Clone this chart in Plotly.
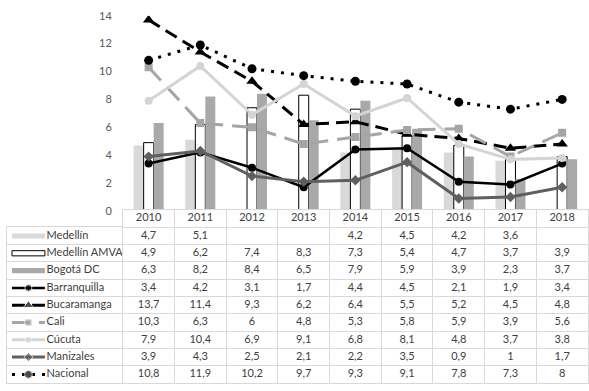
import plotly.graph_objects as go

years = [2010, 2011, 2012, 2013, 2014, 2015, 2016, 2017, 2018]
series_names = ["Medellín", "Medellín AMVA", "Bogotá DC", "Barranquilla", "Bucaramanga",
                "Cali", "Cúcuta", "Manizales", "Nacional"]
medellin = [4.7, 5.1, None, None, 4.2, 4.5, 4.2, 3.6, None]
medellin_amva = [4.9, 6.2, 7.4, 8.3, 7.3, 5.4, 4.7, 3.7, 3.9]
bogota = [6.3, 8.2, 8.4, 6.5, 7.9, 5.9, 3.9, 2.3, 3.7]
barranquilla = [3.4, 4.2, 3.1, 1.7, 4.4, 4.5, 2.1, 1.9, 3.4]
bucaramanga = [13.7, 11.4, 9.3, 6.2, 6.4, 5.5, 5.2, 4.5, 4.8]
cali = [10.3, 6.3, 6, 4.8, 5.3, 5.8, 5.9, 3.9, 5.6]
cucuta = [7.9, 10.4, 6.9, 9.1, 6.8, 8.1, 4.8, 3.7, 3.8]
manizales = [3.9, 4.3, 2.5, 2.1, 2.2, 3.5, 0.9, 1, 1.7]
nacional = [10.8, 11.9, 10.2, 9.7, 9.3, 9.1, 7.8, 7.3, 8]
y_ticks = [0, 2, 4, 6, 8, 10, 12, 14]

W, H = 589, 391
FONT = "Lato"
TXT = "#404040"
GRID = "#d9d9d9"
HDR = " "  # header row key of the data table

year_labels = [str(y) for y in years]
all_series = [medellin, medellin_amva, bogota, barranquilla, bucaramanga,
              cali, cucuta, manizales, nacional]

bar_styles = [
    dict(color="#d9d9d9", line=dict(color="#d9d9d9", width=0)),
    dict(color="#ffffff", line=dict(color="#000000", width=1)),
    dict(color="#a9a9a9", line=dict(color="#a9a9a9", width=0)),
]
line_styles = [
    dict(color="#000000", width=2.5, dash="solid", symbol="circle", size=8),
    dict(color="#000000", width=3, dash="13px,7px", symbol="triangle-up", size=10),
    dict(color="#a5a5a5", width=3, dash="18px,9px", symbol="square", size=8),
    dict(color="#d4d4d4", width=3, dash="solid", symbol="circle", size=8),
    dict(color="#5f5f5f", width=3, dash="solid", symbol="diamond", size=8),
    dict(color="#000000", width=3, dash="3px,7px", symbol="circle", size=9),
]

fig = go.Figure()

# ---- main chart: bars
for i in range(3):
    fig.add_trace(go.Bar(x=year_labels, y=all_series[i], name=series_names[i],
                         marker=bar_styles[i], showlegend=False, offsetgroup=str(i),
                         xaxis="x", yaxis="y", hoverinfo="skip"))
# ---- main chart: lines
for j, st in enumerate(line_styles):
    fig.add_trace(go.Scatter(x=year_labels, y=all_series[3 + j], name=series_names[3 + j],
                             mode="lines+markers",
                             line=dict(color=st["color"], width=st["width"], dash=st["dash"]),
                             marker=dict(color=st["color"], symbol=st["symbol"], size=st["size"]),
                             showlegend=False, xaxis="x", yaxis="y", hoverinfo="skip"))

# ---- data table (values) on its own category axes
def fmt(v):
    if v is None:
        return ""
    return ("%g" % v).replace(".", ",")

fig.add_trace(go.Scatter(x=year_labels, y=[HDR] * len(years), text=year_labels,
                         mode="text", textfont=dict(family=FONT, size=11, color=TXT),
                         showlegend=False, xaxis="x3", yaxis="y3", hoverinfo="skip"))
for name, vals in zip(series_names, all_series):
    fig.add_trace(go.Scatter(x=year_labels, y=[name] * len(years),
                             text=[fmt(v) for v in vals], mode="text",
                             textfont=dict(family=FONT, size=11, color=TXT),
                             showlegend=False, xaxis="x3", yaxis="y3", hoverinfo="skip"))

# ---- table first column: legend keys + names
for i in range(3):
    fig.add_trace(go.Bar(y=[series_names[i]], x=[1], base=0, orientation="h",
                         width=0.3, offset=-0.15, marker=bar_styles[i],
                         showlegend=False, xaxis="x2", yaxis="y2", hoverinfo="skip"))
for j, st in enumerate(line_styles):
    nm = series_names[3 + j]
    fig.add_trace(go.Scatter(x=[0, 0.5, 1], y=[nm, nm, nm], mode="lines+markers",
                             line=dict(color=st["color"], width=st["width"], dash=st["dash"]),
                             marker=dict(color=st["color"], symbol=st["symbol"],
                                         size=[0, st["size"] - 1, 0]),
                             showlegend=False, xaxis="x2", yaxis="y2", hoverinfo="skip"))
fig.add_trace(go.Scatter(x=[1.05] * len(series_names), y=series_names, text=series_names,
                         mode="text", textposition="middle right",
                         textfont=dict(family=FONT, size=11, color=TXT),
                         showlegend=False, xaxis="x2", yaxis="y2", hoverinfo="skip"))

TOP_TABLE = 210
ROW = 17.9
BOTTOM_TABLE = TOP_TABLE + ROW * 10

fig.update_layout(
    width=W, height=H,
    margin=dict(l=0, r=0, t=0, b=0),
    paper_bgcolor="white", plot_bgcolor="white",
    barmode="group", bargap=0.42, bargroupgap=0,
    showlegend=False,
    font=dict(family=FONT, size=11, color=TXT),
    xaxis=dict(domain=[123 / W, 1], type="category", categoryarray=year_labels,
               range=[-0.5, len(years) - 0.5], showticklabels=False,
               showgrid=False, zeroline=False, showline=False,
               ticks="outside", ticklen=3, tickcolor=GRID, tickson="boundaries", anchor="y"),
    yaxis=dict(domain=[(H - 211) / H, (H - 9) / H], range=[0, 14], tickvals=y_ticks,
               showgrid=False, zeroline=False, showline=False, ticks="",
               ticklabelstandoff=10, tickfont=dict(color="#595959", size=11), anchor="x"),
    xaxis3=dict(domain=[123 / W, 1], type="category", categoryarray=year_labels,
                range=[-0.5, len(years) - 0.5], showticklabels=False, ticks="",
                showgrid=True, gridcolor=GRID, gridwidth=1, tickson="boundaries",
                showline=True, mirror=True, linecolor=GRID, zeroline=False, anchor="y3"),
    yaxis3=dict(domain=[(H - BOTTOM_TABLE) / H, (H - TOP_TABLE) / H], type="category",
                categoryarray=[HDR] + series_names,
                range=[len(series_names) + 0.5, -0.5], showticklabels=False, ticks="",
                showgrid=True, gridcolor=GRID, gridwidth=1, tickson="boundaries",
                showline=True, mirror=True, linecolor=GRID, zeroline=False, anchor="x3"),
    xaxis2=dict(domain=[7 / W, 123 / W], range=[-5 / 33, 111 / 33], showticklabels=False,
                ticks="", showgrid=False, zeroline=False,
                showline=True, mirror=True, linecolor=GRID, anchor="y2"),
    yaxis2=dict(domain=[(H - BOTTOM_TABLE) / H, (H - TOP_TABLE - ROW) / H], type="category",
                categoryarray=series_names,
                range=[len(series_names) - 0.5, -0.5], showticklabels=False, ticks="",
                showgrid=True, gridcolor=GRID, gridwidth=1, tickson="boundaries",
                showline=True, mirror=True, linecolor=GRID, zeroline=False, anchor="x2"),
)

fig.write_html("out.html", config={"displayModeBar": False},
               post_script="document.body.style.margin='0';")
